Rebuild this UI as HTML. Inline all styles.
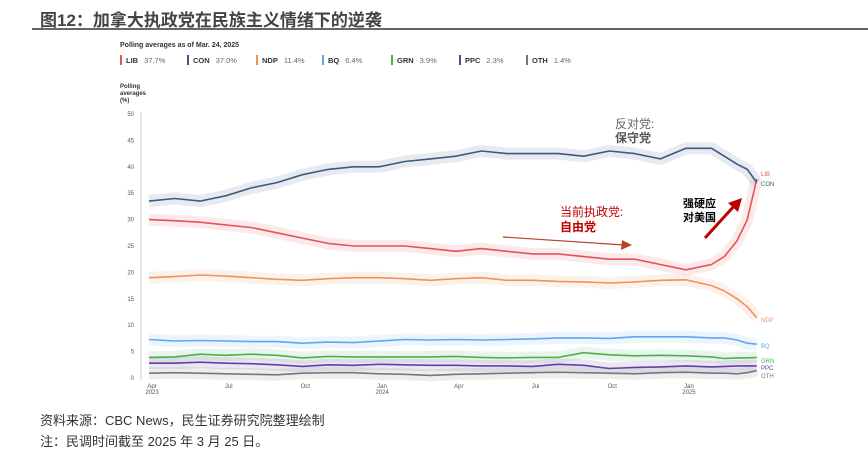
<!DOCTYPE html>
<html><head><meta charset="utf-8">
<style>
body{margin:0;width:868px;height:453px;background:#fff;font-family:"Liberation Sans","Noto Sans CJK SC",sans-serif;overflow:hidden;position:relative}
.t{position:absolute;white-space:nowrap}
</style></head>
<body>
<div class="t" style="left:40px;top:6px;font-size:17px;font-weight:bold;color:#444">图12：加拿大执政党在民族主义情绪下的逆袭</div>
<div style="position:absolute;left:32px;top:28px;width:836px;height:2px;background:#666"></div>
<div class="t" style="left:40px;top:410px;font-size:13px;color:#333">资料来源：CBC News，民生证券研究院整理绘制</div>
<div class="t" style="left:40px;top:431px;font-size:13px;color:#333">注：民调时间截至 2025 年 3 月 25 日。</div>
<svg id="chart" width="868" height="453" style="position:absolute;left:0;top:0" font-family="Liberation Sans, Noto Sans CJK SC, sans-serif"></svg>
<script>
const months=[0,1,2,3,4,5,6,7,8,9,10,11,12,13,14,15,16,17,18,19,20,21,22,22.5,23,23.4,23.77];
const lib=[30,29.8,29.5,29,28.5,27.5,26.5,25.5,25,25,25,24.5,24,24.5,24,23.5,23.5,23,22.5,22.5,21.5,20.5,21.5,23,26,30,37.7];
const con=[33.5,34,33.5,34.5,36,37,38.5,39.5,40,40,41,41.5,42,43,42.5,42.5,42.5,42,43,42.5,41.5,43.5,43.5,42,40.5,39.5,37];
const ndp=[19,19.2,19.5,19.3,19,18.7,18.5,18.8,19,19,18.8,18.5,18.8,19,18.5,18.5,18.3,18.2,18,18.2,18.5,18.6,17.5,16.5,15,13.5,11.4];
const bq=[7.3,7,7.1,7,6.9,6.9,6.6,6.8,6.7,7,7.3,7.2,7.3,7.2,7.3,7.4,7.6,7.6,7.5,7.8,7.8,7.8,7.6,7.6,7.2,6.6,6.4];
const grn=[3.9,4,4.5,4.3,4.5,4.3,3.8,4.1,4,4,4,4,4.1,3.9,3.8,3.9,3.9,4.8,4.4,4.2,4.3,4.2,4,3.7,3.8,3.8,3.9];
const ppc=[2.8,2.8,3,2.8,2.7,2.5,2.2,2.5,2.4,2.6,2.5,2.4,2.4,2.3,2.3,2.2,2.6,2.4,1.8,2,2.1,2.3,2.1,2.2,2.3,2.3,2.3];
const oth=[0.9,1,0.9,0.8,0.7,0.6,0.9,1,1,0.8,0.7,0.5,0.7,0.8,0.9,1,1.1,1,0.9,0.8,1,1.1,0.9,0.9,0.8,1,1.4];
const yTicks=[0,5,10,15,20,25,30,35,40,45,50];
const xTickMonths=[0,3,6,9,12,15,18,21];
const xTickLabels=["Apr|2023","Jul","Oct","Jan|2024","Apr","Jul","Oct","Jan|2025"];
const legendNames=["LIB","CON","NDP","BQ","GRN","PPC","OTH"];
const legendVals=["37.7%","37.0%","11.4%","6.4%","3.9%","2.3%","1.4%"];
const colors=["#e4525a","#3d5a80","#f0935a","#5fa8f0","#4caf50","#5e40a8","#777"];
const series=[lib,con,ndp,bq,grn,ppc,oth];
const endLabelY=[176,186,322,348,363,370,378];
const X=m=>152+m*25.57-3;
const Y=v=>378-v*5.28;
const svg=document.getElementById('chart');
const NS='http://www.w3.org/2000/svg';
function mk(tag,attrs,txt){const e=document.createElementNS(NS,tag);for(const k in attrs)e.setAttribute(k,attrs[k]);if(txt!==undefined)e.textContent=txt;svg.appendChild(e);return e;}
let e=mk('text',{x:120,y:47,'font-size':7,'font-weight':'bold',fill:'#333'},'Polling averages as of Mar. 24, 2025');


const lx=[120,187,256,322,391,459,526];
legendNames.forEach((n,i)=>{
 const r=mk('rect',{x:lx[i],y:55,width:2,height:10,fill:colors[i]});
 
 
 const t=mk('text',{x:lx[i]+6,y:63,'font-size':7.5,fill:'#333'});
 t.innerHTML='<tspan font-weight="bold">'+n+'</tspan><tspan dx="6" fill="#666">'+legendVals[i]+'</tspan>';
 
 
});
e=mk('text',{x:120,y:88,'font-size':6,'font-weight':'bold',fill:'#333'});
e.innerHTML='<tspan x="120">Polling</tspan><tspan x="120" dy="7">averages</tspan><tspan x="120" dy="7">(%)</tspan>';


e=mk('line',{x1:141,x2:141,y1:112,y2:380,stroke:'#ccc','stroke-width':1});


yTicks.forEach(v=>{const t=mk('text',{x:134,y:Y(v)+2,'font-size':6,fill:'#555','text-anchor':'end'},v);
 
 });
xTickMonths.forEach((m,i)=>{const p=xTickLabels[i].split('|');
 const t=mk('text',{x:X(m)+3,y:388,'font-size':6,fill:'#555','text-anchor':'middle'});
 t.innerHTML='<tspan x="'+(X(m)+3)+'">'+p[0]+'</tspan>'+(p[1]?'<tspan x="'+(X(m)+3)+'" dy="6">'+p[1]+'</tspan>':'');
 
 });
series.forEach((s,i)=>{
 const d=s.map((v,j)=>(j?'L':'M')+X(months[j]).toFixed(1)+','+Y(v).toFixed(1)).join(' ');
 const band=mk('path',{d:d,fill:'none',stroke:colors[i],'stroke-opacity':0.12,'stroke-width':12,'stroke-linejoin':'round'});
 
 
 const p=mk('path',{d:d,fill:'none',stroke:colors[i],'stroke-width':1.6,'stroke-linejoin':'round'});
 
 
 const t=mk('text',{x:761,y:endLabelY[i],'font-size':6,fill:colors[i]},legendNames[i]);
 
 
});
e=mk('text',{x:615,y:128,'font-size':12,fill:'#666'},'反对党:');


e=mk('text',{x:615,y:142,'font-size':12,'font-weight':'bold',fill:'#555'},'保守党');


e=mk('text',{x:560,y:216,'font-size':12,fill:'#c00000'},'当前执政党:');


e=mk('text',{x:560,y:231,'font-size':12,'font-weight':'bold',fill:'#c00000'},'自由党');


e=mk('text',{x:683,y:207,'font-size':11,'font-weight':'bold',fill:'#000'},'强硬应');


e=mk('text',{x:683,y:221,'font-size':11,'font-weight':'bold',fill:'#000'},'对美国');


e=mk('line',{x1:503,y1:237,x2:624,y2:245,stroke:'#b5452a','stroke-width':1.2});


e=mk('polygon',{points:'632,245 622,240 621,250',fill:'#b5452a'});


e=mk('line',{x1:705,y1:238,x2:735,y2:205,stroke:'#c00000','stroke-width':3});


e=mk('polygon',{points:'742,198 738,212 728,203',fill:'#c00000'});


</script>
</body></html>
